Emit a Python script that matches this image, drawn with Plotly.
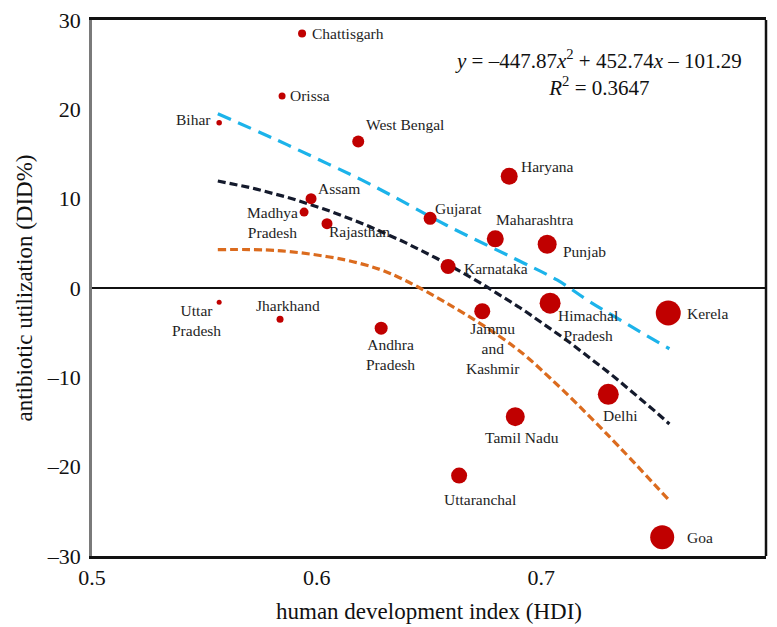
import plotly.graph_objects as go

# State-level antibiotic utilization vs human development index
states = ["Chattisgarh", "Orissa", "Bihar", "West Bengal", "Haryana", "Assam",
          "Madhya<br>Pradesh", "Rajasthan", "Gujarat", "Maharashtra", "Punjab",
          "Karnataka", "Uttar<br>Pradesh", "Jharkhand", "Andhra<br>Pradesh",
          "Jammu<br>and<br>Kashmir", "Himachal<br>Pradesh", "Kerela", "Delhi",
          "Tamil Nadu", "Uttaranchal", "Goa"]
hdi = [0.5935, 0.5846, 0.5566, 0.6185, 0.6857, 0.5975, 0.5944, 0.6046, 0.6505,
       0.6795, 0.7026, 0.6585, 0.5566, 0.5837, 0.6287, 0.6737, 0.7039, 0.7565,
       0.7298, 0.6884, 0.6634, 0.7538]
did_pct = [28.5, 21.5, 18.5, 16.4, 12.5, 10.0, 8.5, 7.2, 7.8, 5.5, 4.9, 2.4,
           -1.6, -3.5, -4.5, -2.6, -1.7, -2.8, -11.9, -14.4, -21.0, -27.9]
bubble_size = [8, 7, 5.5, 12, 17, 11, 9, 11, 13, 17, 19, 15, 5, 7, 13, 16, 21,
               25, 21, 19, 16, 24]

# Quadratic trend (coefficients as printed) and its confidence band
trend_coef = [-447.87, 452.74, -101.29]
trend_x = [0.556 + i * 0.201 / 60 for i in range(61)]
band_upper_x = [0.556, 0.582, 0.605, 0.620, 0.633, 0.658, 0.688, 0.707, 0.722, 0.757]
band_upper_y = [19.5, 16.6, 13.9, 12.1, 10.4, 7.0, 3.3, 0.9, -1.6, -6.8]
band_lower_x = [0.556, 0.582, 0.605, 0.620, 0.633, 0.658, 0.688, 0.704, 0.729, 0.757]
band_lower_y = [4.3, 4.2, 3.5, 2.7, 1.6, -1.7, -6.6, -10.1, -16.3, -23.8]

x_ticks = [0.5, 0.6, 0.7, 0.8]
y_ticks = [-30, -20, -10, 0, 10, 20, 30]

# label placement: (xanchor, xshift, yshift)
label_offsets = {
    "Chattisgarh": ("left", 8, 0),
    "Orissa": ("left", 6, 0),
    "Bihar": ("right", -6, 3),
    "West Bengal": ("left", 6, 17),
    "Haryana": ("left", 10, 10),
    "Assam": ("left", 5, 10),
    "Madhya<br>Pradesh": ("right", -4, -10),
    "Rajasthan": ("left", 0, -8),
    "Gujarat": ("left", 3, 10),
    "Maharashtra": ("left", -1, 19),
    "Punjab": ("left", 14, -7),
    "Karnataka": ("left", 14, -2),
    "Uttar<br>Pradesh": ("center", -23, -18),
    "Jharkhand": ("center", 8, 14),
    "Andhra<br>Pradesh": ("center", 9, -26),
    "Jammu<br>and<br>Kashmir": ("center", 11, -37),
    "Himachal<br>Pradesh": ("center", 38, -22),
    "Kerela": ("left", 17, 0),
    "Delhi": ("center", 12, -21),
    "Tamil Nadu": ("center", 7, -21),
    "Uttaranchal": ("center", 21, -24),
    "Goa": ("left", 23, 0),
}

serif = "Liberation Serif, Times New Roman, serif"

def poly(x):
    a, b, c = trend_coef
    return a * x * x + b * x + c

fig = go.Figure()

fig.add_trace(go.Scatter(
    x=band_upper_x, y=band_upper_y, mode="lines", line_shape="spline",
    line=dict(color="#1cb3ea", width=3.2, dash="14px,8px"), hoverinfo="skip"))
fig.add_trace(go.Scatter(
    x=trend_x, y=[poly(v) for v in trend_x], mode="lines",
    line=dict(color="#141a2c", width=3.2, dash="8px,4px"), hoverinfo="skip"))
fig.add_trace(go.Scatter(
    x=band_lower_x, y=band_lower_y, mode="lines", line_shape="spline",
    line=dict(color="#db6b1e", width=3.2, dash="8px,4px"), hoverinfo="skip"))

fig.add_trace(go.Scatter(
    x=hdi, y=did_pct, mode="markers",
    marker=dict(size=bubble_size, color="#c00000", opacity=1, line=dict(width=0)),
    hoverinfo="x+y"))

for name, xv, yv in zip(states, hdi, did_pct):
    anchor, dx, dy = label_offsets[name]
    fig.add_annotation(
        x=xv, y=yv, text=name, showarrow=False, xanchor=anchor, yanchor="middle",
        xshift=dx, yshift=dy, align="center",
        font=dict(family=serif, size=15.5, color="#1e1e1e"))

fig.add_annotation(
    xref="paper", yref="paper", x=0.751, y=0.902, xanchor="center", yanchor="middle",
    showarrow=False, align="center",
    text=("<i>y</i> = –447.87<i>x</i><sup>2</sup> + 452.74<i>x</i> – 101.29<br>"
          "<i>R</i><sup>2</sup> = 0.3647"),
    font=dict(family=serif, size=21, color="#111111"))

# black right border (left axis line is grey)
fig.add_shape(type="line", xref="paper", yref="paper", x0=1, x1=1, y0=0, y1=1,
              line=dict(color="#111111", width=2.5))

fig.update_layout(
    width=777, height=627,
    margin=dict(l=92, r=11, t=20, b=71, pad=0),
    paper_bgcolor="white", plot_bgcolor="white",
    showlegend=False,
    font=dict(family=serif, color="#111111"),
    xaxis=dict(
        range=[0.5, 0.8], tickvals=x_ticks, ticktext=[str(v) for v in x_ticks],
        automargin=False,
        showgrid=False, zeroline=False, showline=True, mirror=True,
        linecolor="#111111", linewidth=2.5, ticks="", ticklabelstandoff=0,
        tickfont=dict(family=serif, size=22, color="#111111"),
        title=dict(text="human development index (HDI)", standoff=14,
                   font=dict(family=serif, size=23, color="#111111"))),
    yaxis=dict(
        range=[-30, 30], tickvals=y_ticks, ticktext=[str(v).replace("-", "–") for v in y_ticks],
        automargin=False,
        showgrid=False, zeroline=True, zerolinecolor="#111111", zerolinewidth=2,
        showline=True, mirror=False, linecolor="#7a7a7a", linewidth=2.5,
        ticks="", ticklabelstandoff=4,
        tickfont=dict(family=serif, size=22, color="#111111"),
        title=dict(text="antibiotic utilization (DID%)", standoff=8,
                   font=dict(family=serif, size=23, color="#111111"))),
)

fig.write_html("out.html")
